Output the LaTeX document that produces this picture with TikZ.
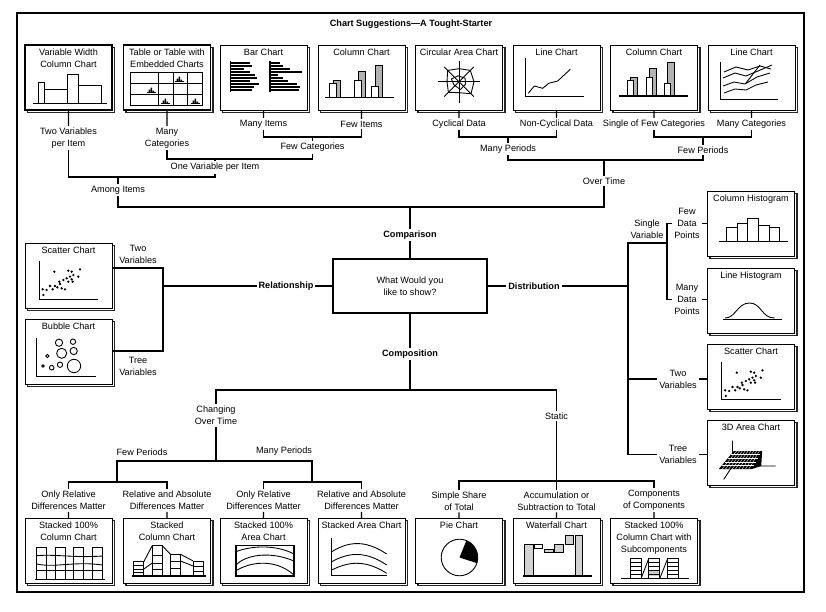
\documentclass[tikz,border=0pt]{standalone}
\usepackage{fontspec}
\setmainfont{Liberation Sans}
\usetikzlibrary{shadows,calc}

\begin{document}
\begin{tikzpicture}[x=0.03cm, y=-0.03cm,
  conn/.style={line width=1.1pt},
  chart/.style={draw, fill=white, line width=0.8pt, minimum width=2.61cm, minimum height=1.95cm,
    anchor=north west, inner sep=0pt, outer sep=0pt,
    copy shadow={shadow xshift=2.2pt, shadow yshift=-2.2pt, draw=black!85, fill=white, line width=1.1pt}},
  heavy/.style={chart, line width=1.6pt},
  ttl/.style={font=\fontsize{7.8}{10.2}\selectfont, align=center, anchor=north, inner sep=3.5pt},
  lbl/.style={font=\fontsize{7.8}{10.2}\selectfont, align=center, inner sep=1.5pt},
  branch/.style={lbl, font=\fontsize{7.8}{10.2}\selectfont\bfseries},
  mini/.style={line width=0.75pt}]
\useasboundingbox (0,0) rectangle (826,612);
\draw[line width=1.6pt] (17,13) rectangle (804,592);
\node[branch] (title) at (411,24) {Chart Suggestions—A Tought-Starter};

% top row of charts
\node[heavy] (varwidth) at (25,45) {};
\node[ttl] (tvarwidth) at (varwidth.north) {Variable Width\\Column Chart};
\node[heavy] (table) at (123.5,45) {};
\node[ttl] (ttable) at (table.north) {Table or Table with\\Embedded Charts};
\node[chart] (bar) at (220,45) {};
\node[ttl] (tbar) at (bar.north) {Bar Chart};
\node[chart] (column) at (318,45) {};
\node[ttl] (tcolumn) at (column.north) {Column Chart};
\node[chart] (circular) at (415.5,45) {};
\node[ttl] (tcircular) at (circular.north) {Circular Area Chart};
\node[chart] (line) at (513,45) {};
\node[ttl] (tline) at (line.north) {Line Chart};
\node[chart] (column2) at (610.5,45) {};
\node[ttl] (tcolumn2) at (column2.north) {Column Chart};
\node[chart] (lines) at (708,45) {};
\node[ttl] (tlines) at (lines.north) {Line Chart};

% right column
\node[chart] (colhist) at (707.5,191) {};
\node[ttl] (tcolhist) at (colhist.north) {Column Histogram};
\node[chart] (linehist) at (707.5,268) {};
\node[ttl] (tlinehist) at (linehist.north) {Line Histogram};
\node[chart] (scatter2) at (707.5,344) {};
\node[ttl] (tscatter2) at (scatter2.north) {Scatter Chart};
\node[chart] (area3d) at (707.5,420) {};
\node[ttl] (tarea3d) at (area3d.north) {3D Area Chart};

% left column
\node[chart] (scatter) at (25,243) {};
\node[ttl] (tscatter) at (scatter.north) {Scatter Chart};
\node[chart] (bubble) at (25,319) {};
\node[ttl] (tbubble) at (bubble.north) {Bubble Chart};

% bottom row
\node[chart] (stack100) at (25,518) {};
\node[ttl] (tstack100) at (stack100.north) {Stacked 100\%\\Column Chart};
\node[chart] (stackcol) at (123.5,518) {};
\node[ttl] (tstackcol) at (stackcol.north) {Stacked\\Column Chart};
\node[chart] (stackarea100) at (220,518) {};
\node[ttl] (tstackarea100) at (stackarea100.north) {Stacked 100\%\\Area Chart};
\node[chart] (stackarea) at (318,518) {};
\node[ttl] (tstackarea) at (stackarea.north) {Stacked Area Chart};
\node[chart] (pie) at (415.5,518) {};
\node[ttl] (tpie) at (pie.north) {Pie Chart};
\node[chart] (waterfall) at (513,518) {};
\node[ttl] (twaterfall) at (waterfall.north) {Waterfall Chart};
\node[chart] (subcomp) at (610.5,518) {};
\node[ttl] (tsubcomp) at (subcomp.north) {Stacked 100\%\\Column Chart with\\Subcomponents};

% small charts
\begin{scope}[shift={(varwidth.north west)}, mini]
\draw (8,58) -- (82,58);
\draw (13,58) rectangle (19,37) (19,58) rectangle (42,44) (42,58) rectangle (53,29) (53,58) rectangle (76,40);
\end{scope}
\begin{scope}[shift={(table.north west)}, mini]
\draw (7,27) rectangle (79,60);
\draw (34.7,27) -- (34.7,60) (49.7,27) -- (49.7,60) (63.7,27) -- (63.7,60);
\draw (7,38.3) -- (79,38.3) (7,49.3) -- (79,49.3);
\foreach \a/\b in {56/36.5, 28/47.5, 42/58.5, 72/58.5} {
  \draw[line width=0.5pt] (\a-4.5,\b) -- (\a+4.5,\b);
  \fill (\a-3,\b) rectangle (\a-1.5,\b-3) (\a-1,\b) rectangle (\a+0.5,\b-5) (\a+1,\b) rectangle (\a+2.5,\b-2);
}
\end{scope}
\begin{scope}[shift={(bar.north west)}]
\foreach \l [count=\i] in {19,21,13,19,24,26,19,28,23,21} \fill (10.5,14+\i*3) rectangle ++(\l,2.3);
\foreach \l [count=\i] in {10,13,20,32,8,13,18,27,30,29} \fill (50,14+\i*3) rectangle ++(\l,2.3);
\draw[line width=0.9pt] (10.5,16) -- (10.5,47) (50,16) -- (50,47);
\end{scope}
\begin{scope}[shift={(column.north west)}, mini]
\foreach \x/\g/\w in {11/35/38, 36/26/35, 53/20/41} {
  \draw[fill=gray!60] (\x+4,52.7) rectangle (\x+11,\g);
  \draw[fill=white] (\x,52.7) rectangle (\x+7,\w);
}
\draw[line width=0.9pt] (7,52.7) -- (76,52.7);
\end{scope}
\begin{scope}[shift={(circular.north west)}, mini]
\foreach \a in {0,45,90,135} \draw (43.5,36.7) ++(\a:21) -- ++(\a+180:42);
\draw[shift={(43.5,36.7)}] (0:15) -- (45:17) -- (90:11) -- (135:15) -- (180:12) -- (225:16) -- (270:13) -- (315:16) -- cycle;
\draw[shift={(43.5,36.7)}] (20:7) -- (80:8) -- (150:6) -- (200:8) -- (260:6) -- (330:7) -- cycle;
\end{scope}
\begin{scope}[shift={(line.north west)}, mini]
\draw (12,13) -- (12,51) -- (71,51);
\draw (15.3,48.3) -- (21.3,41) -- (29.7,43.3) -- (35.7,38.3) -- (44.7,36) -- (57.3,24.3);
\end{scope}
\begin{scope}[shift={(column2.north west)}, mini]
\foreach \x/\g/\w in {17/32/35, 36/23/32, 54/17.7/38} {
  \draw[fill=gray!60] (\x+3,51) rectangle (\x+10,\g);
  \draw[fill=white] (\x,51) rectangle (\x+6,\w);
}
\draw[line width=0.9pt] (8,51) -- (77,51);
\end{scope}
\begin{scope}[shift={(lines.north west)}, mini]
\draw (12.7,16.7) -- (12.7,54.3) -- (70,54.3);
\draw (16,27) -- (28,22) -- (40,25) -- (52,21) -- (63,24);
\draw (15,33) -- (27,28) -- (38,31) -- (50,26) -- (64,20);
\draw (15,41) -- (26,37) -- (37,39) -- (49,32) -- (62,28);
\draw (16,48) -- (27,44) -- (38,45) -- (48,40) -- (60,37);
\draw (38,38) -- (52,20);
\end{scope}
\begin{scope}[shift={(colhist.north west)}, mini]
\draw (19,50.7) rectangle (29.7,36.3) (29.7,50.7) rectangle (40.3,32.3) (40.3,50.7) rectangle (51.3,27.3)
  (51.3,50.7) rectangle (62.3,34) (62.3,50.7) rectangle (72.3,36.7);
\draw[line width=0.9pt] (11,50.7) -- (80,50.7);
\end{scope}
\begin{scope}[shift={(linehist.north west)}, mini]
\draw[line width=0.9pt] (15.7,51.3) -- (74.7,51.3);
\draw (17.7,50) .. controls (28,50) and (30,35) .. (42,35) .. controls (54,35) and (54,50) .. (67,50);
\end{scope}
\begin{scope}[shift={(scatter2.north west)}, mini]
\draw (13.7,17.7) -- (13.7,55.3) -- (73,55.3);
\foreach \x/\y in {17.7/46.3, 21.7/47, 18.3/52, 25/43, 27.7/46.3, 30/43, 32.3/44.3, 34.3/38.7, 36.7/45.3,
  38.3/37, 40/46.3, 41.7/35.3, 43.3/38.7, 45/33.7, 46.7/36.3, 47.7/38.7, 29.3/28.7, 43.3/27.7, 46.7/28.7,
  55/26.3, 53.3/33.7, 35/41, 48.3/32} \fill (\x,\y) circle (1.1pt);
\end{scope}
\begin{scope}[shift={(area3d.north west)}, mini]
\draw (25,20.7) -- (25,46) -- (68,46) (25,46) -- (16.3,59.3);
\fill (26.3,31) -- (54.7,31) -- (53.7,46) -- (44.7,49) -- (11.3,49) -- cycle;
\foreach \t in {0.2,0.4,0.6,0.8} \draw[white, line width=0.3pt] ($(26.3,31)!\t!(11.3,49)$) -- ($(54.7,31)!\t!(44.7,49)$);
\foreach \t in {0.1,0.2,...,0.9} \draw[white, line width=0.3pt] ($(26.3,31)!\t!(54.7,31)$) -- ($(11.3,49)!\t!(44.7,49)$);
\end{scope}
\begin{scope}[shift={(scatter.north west)}, mini]
\draw (14,18) -- (14,56) -- (73,56);
\foreach \x/\y in {17.7/46.3, 21.7/47, 18.3/52, 25/43, 27.7/46.3, 30/43, 32.3/44.3, 34.3/38.7, 36.7/45.3,
  38.3/37, 40/46.3, 41.7/35.3, 43.3/38.7, 45/33.7, 46.7/36.3, 47.7/38.7, 29.3/28.7, 43.3/27.7, 46.7/28.7,
  55/26.3, 53.3/33.7, 35/41, 48.3/32} \fill (\x,\y) circle (1.1pt);
\end{scope}
\begin{scope}[shift={(bubble.north west)}, mini]
\draw (11.7,19) -- (11.7,57) -- (70.7,57);
\foreach \x/\y/\r in {34/23.7/3.1, 48/22.7/2.3, 36.7/34.3/4.3, 48.7/32/3.1, 22.3/37/1.4, 18/47/1.1,
  26.7/48.7/2, 35/45.7/2.3, 49/47/5.7} \draw (\x,\y) circle[radius=\r pt];
\end{scope}
\begin{scope}[shift={(stack100.north west)}, mini]
\foreach \x in {11.7,30,48.3,67.3} \draw (\x,29.7) rectangle (\x+10,61.3);
\draw (11.7,37.7) .. controls (30,36) and (50,40) .. (77.3,38);
\draw (11.7,46) .. controls (30,50) and (50,43) .. (77.3,47);
\draw (11.7,52.5) -- (77.3,52.5);
\draw[line width=1pt] (10,61.3) -- (80,61.3);
\end{scope}
\begin{scope}[shift={(stackcol.north west)}, mini]
\draw (10.3,58) rectangle (20.3,43.7) (10.3,47.5) -- (20.3,47.5) (10.3,51) -- (20.3,51) (10.3,54.5) -- (20.3,54.5);
\draw (28.7,58) rectangle (38.7,27.7) (28.7,37) -- (38.7,37) (28.7,45) -- (38.7,45) (28.7,51) -- (38.7,51);
\draw (47,58) rectangle (57,36.3) (47,43) -- (57,43) (47,50) -- (57,50);
\draw (69.7,58) rectangle (79.7,43) (69.7,48) -- (79.7,48) (69.7,53) -- (79.7,53);
\draw (20.3,43.7) -- (28.7,27.7) (20.3,51) -- (28.7,45) (38.7,27.7) -- (47,36.3) (57,36.3) -- (69.7,43) (57,43) -- (69.7,48);
\draw[line width=1pt] (8,58) -- (82,58);
\end{scope}
\begin{scope}[shift={(stackarea100.north west)}, mini]
\draw[line width=0.9pt] (16,27.7) rectangle (74,58);
\draw (16,33.7) .. controls (30,28) and (55,26) .. (74,36);
\draw (16,47) .. controls (24,38) and (48,32) .. (74,43);
\draw (16,52.7) .. controls (30,44) and (55,40) .. (74,57);
\end{scope}
\begin{scope}[shift={(stackarea.north west)}, mini]
\draw (13.7,20.3) -- (13.7,57.7) -- (68.7,57.7);
\draw (13.7,33.7) .. controls (28,25) and (45,20) .. (68.7,36);
\draw (13.7,43.7) .. controls (28,36) and (45,31) .. (68.7,47);
\draw (13.7,52) .. controls (28,45) and (45,40) .. (68.7,55.3);
\end{scope}
\begin{scope}[shift={(pie.north west)}, mini]
\draw (44,39.5) circle[radius=15.6pt];
\fill (44,39.5) -- ++(-18:15.6pt) arc[start angle=-18, end angle=68, radius=15.6pt] -- cycle;
\end{scope}
\begin{scope}[shift={(waterfall.north west)}, mini]
\draw[fill=gray!35] (11.3,58) rectangle (20.3,26) (62.7,58) rectangle (69.7,17.7)
  (31.3,31.3) rectangle (40.3,34.7) (41.3,26) rectangle (50.3,34.3) (52.7,17.7) rectangle (60.3,26);
\draw (21.3,26) rectangle (29.7,30);
\draw[line width=1.2pt] (11.3,58) -- (11.3,26);
\draw[line width=1pt] (10.3,58) -- (78.7,58);
\end{scope}
\begin{scope}[shift={(subcomp.north west)}, mini]
\fill[gray!40] (38.3,52) rectangle (49.3,58);
\foreach \x/\w in {20/10.7, 38.3/11, 57.3/11} {
  \draw (\x,40.3) rectangle (\x+\w,60.3);
  \foreach \y in {44,48,52,56} \draw (\x,\y) -- (\x+\w,\y);
}
\draw (30.7,60.3) -- (38.3,40.3) (49.3,60.3) -- (57.3,40.3);
\draw[line width=1pt] (10,60.3) -- (78.3,60.3);
\end{scope}

% centre
\node[draw, lbl, line width=1.2pt, minimum width=4.62cm, minimum height=1.62cm] (ask) at (410,286) {What Would you\\like to show?};
\node[branch] (comparison) at (410,235) {Comparison};
\node[branch] (compos) at (410,354) {Composition};
\node[branch] (relation) at (286,286) {Relationship};
\node[branch] (distrib) at (534,286) {Distribution};

% comparison tree
\node[lbl] (twovar) at (68.5,138) {Two Variables\\per Item};
\node[lbl] (manycat) at (167,138) {Many\\Categories};
\node[lbl] (manyitems) at (263.5,124) {Many Items};
\node[lbl] (fewitems) at (361.5,124) {Few Items};
\node[lbl] (fewcat) at (312.5,147.5) {Few Categories};
\node[lbl] (onevar) at (215,167.5) {One Variable per Item};
\node[lbl] (among) at (118,190) {Among Items};
\node[lbl] (cyclical) at (459,124) {Cyclical Data};
\node[lbl] (noncyc) at (556.5,124) {Non-Cyclical Data};
\node[lbl] (fewcats) at (654,124) {Single of Few Categories};
\node[lbl] (manycats) at (751.5,124) {Many Categories};
\node[lbl] (manyper) at (508,149) {Many Periods};
\node[lbl] (fewper) at (703,150) {Few Periods};
\node[lbl] (overtime) at (604,181) {Over Time};
\coordinate (j1) at (312.5,137);
\coordinate (j2) at (215,159);
\coordinate (j3) at (118,177);
\coordinate (j4) at (410,207);
\coordinate (j5) at (508,137);
\coordinate (j6) at (703,137);
\coordinate (j7) at (604,160);
\draw[conn] (varwidth) -- (twovar);
\draw[conn] (table) -- (manycat);
\draw[conn] (bar) -- (manyitems);
\draw[conn] (column) -- (fewitems);
\draw[conn] (manyitems) |- (j1) -| (fewitems);
\draw[conn] (j1) -- (fewcat);
\draw[conn] (manycat) |- (j2) -| (fewcat);
\draw[conn] (j2) -- (onevar);
\draw[conn] (twovar) |- (j3) -| (onevar);
\draw[conn] (j3) -- (among);
\draw[conn] (circular) -- (cyclical);
\draw[conn] (line) -- (noncyc);
\draw[conn] (column2) -- (fewcats);
\draw[conn] (lines) -- (manycats);
\draw[conn] (cyclical) |- (j5) -| (noncyc);
\draw[conn] (j5) -- (manyper);
\draw[conn] (fewcats) |- (j6) -| (manycats);
\draw[conn] (j6) -- (fewper);
\draw[conn] (manyper) |- (j7) -| (fewper);
\draw[conn] (j7) -- (overtime);
\draw[conn] (among) |- (j4) -| (overtime);
\draw[conn] (j4) -- (comparison);
\draw[conn] (comparison) -- (ask);

% relationship
\node[lbl] (twovars) at (138,254) {Two\\Variables};
\node[lbl] (treevars) at (138,366) {Tree\\Variables};
\coordinate (j8) at (163,286);
\coordinate (j9) at (163,268);
\coordinate (j10) at (163,351);
\draw[conn] (ask) -- (relation);
\draw[conn] (relation) -- (j8);
\draw[conn] (scatter.east |- j9) -- (j9) -- (j10) -- (bubble.east |- j10);

% distribution
\node[lbl] (single) at (647,229.5) {Single\\Variable};
\node[lbl] (fewdata) at (687,223.5) {Few\\Data\\Points};
\node[lbl] (manydata) at (687,299.5) {Many\\Data\\Points};
\node[lbl] (twovars2) at (678,379) {Two\\Variables};
\node[lbl] (treevars2) at (678,454.5) {Tree\\Variables};
\coordinate (j11) at (628,286);
\coordinate (j12) at (628,243);
\coordinate (j13) at (628,379);
\coordinate (j14) at (628,454.5);
\coordinate (j15) at (667,243);
\coordinate (j16) at (667,299.5);
\draw[conn] (ask) -- (distrib);
\draw[conn] (distrib) -- (j11);
\draw[conn] (j15) -- (j12) -- (j14) -- (treevars2);
\draw[conn] (j13) -- (twovars2);
\draw[conn] (fewdata) -| (j16) -- (manydata);
\draw[conn] (fewdata) -- (colhist.west |- fewdata);
\draw[conn] (manydata) -- (linehist.west |- manydata);
\draw[conn] (twovars2) -- (scatter2.west |- twovars2);
\draw[conn] (treevars2) -- (area3d.west |- treevars2);

% composition
\node[lbl] (changing) at (216,415.5) {Changing\\Over Time};
\node[lbl] (static) at (556.5,416) {Static};
\node[lbl] (fewper2) at (142,452) {Few Periods};
\node[lbl] (manyper2) at (284,451) {Many Periods};
\node[lbl] (onlyrel) at (68.5,500.5) {Only Relative\\Differences Matter};
\node[lbl] (relabs) at (167,500.5) {Relative and Absolute\\Differences Matter};
\node[lbl] (onlyrel2) at (263.5,500.5) {Only Relative\\Differences Matter};
\node[lbl] (relabs2) at (361.5,500.5) {Relative and Absolute\\Differences Matter};
\node[lbl] (share) at (459,501) {Simple Share\\of Total};
\node[lbl] (accum) at (556.5,501) {Accumulation or\\Subtraction to Total};
\node[lbl] (compcomp) at (654,500) {Components\\of Components};
\coordinate (j18) at (410,390);
\coordinate (j21) at (216,461);
\coordinate (j22) at (117,482);
\coordinate (j23) at (312,482);
\coordinate (j24) at (556.5,481);
\draw[conn] (ask) -- (compos);
\draw[conn] (compos) -- (j18);
\draw[conn] (changing) |- (j18) -| (static);
\draw[conn] (changing) -- (j21);
\draw[conn] (j22) |- (j21) -| (j23);
\draw[conn] (onlyrel) |- (j22) -| (relabs);
\draw[conn] (onlyrel2) |- (j23) -| (relabs2);
\draw[conn] (static) -- (j24);
\draw[conn] (share) |- (j24) -| (compcomp);
\draw[conn] (j24) -- (accum);
\draw[conn] (onlyrel) -- (stack100);
\draw[conn] (relabs) -- (stackcol);
\draw[conn] (onlyrel2) -- (stackarea100);
\draw[conn] (relabs2) -- (stackarea);
\draw[conn] (share) -- (pie);
\draw[conn] (accum) -- (waterfall);
\draw[conn] (compcomp) -- (subcomp);
\end{tikzpicture}
\end{document}
